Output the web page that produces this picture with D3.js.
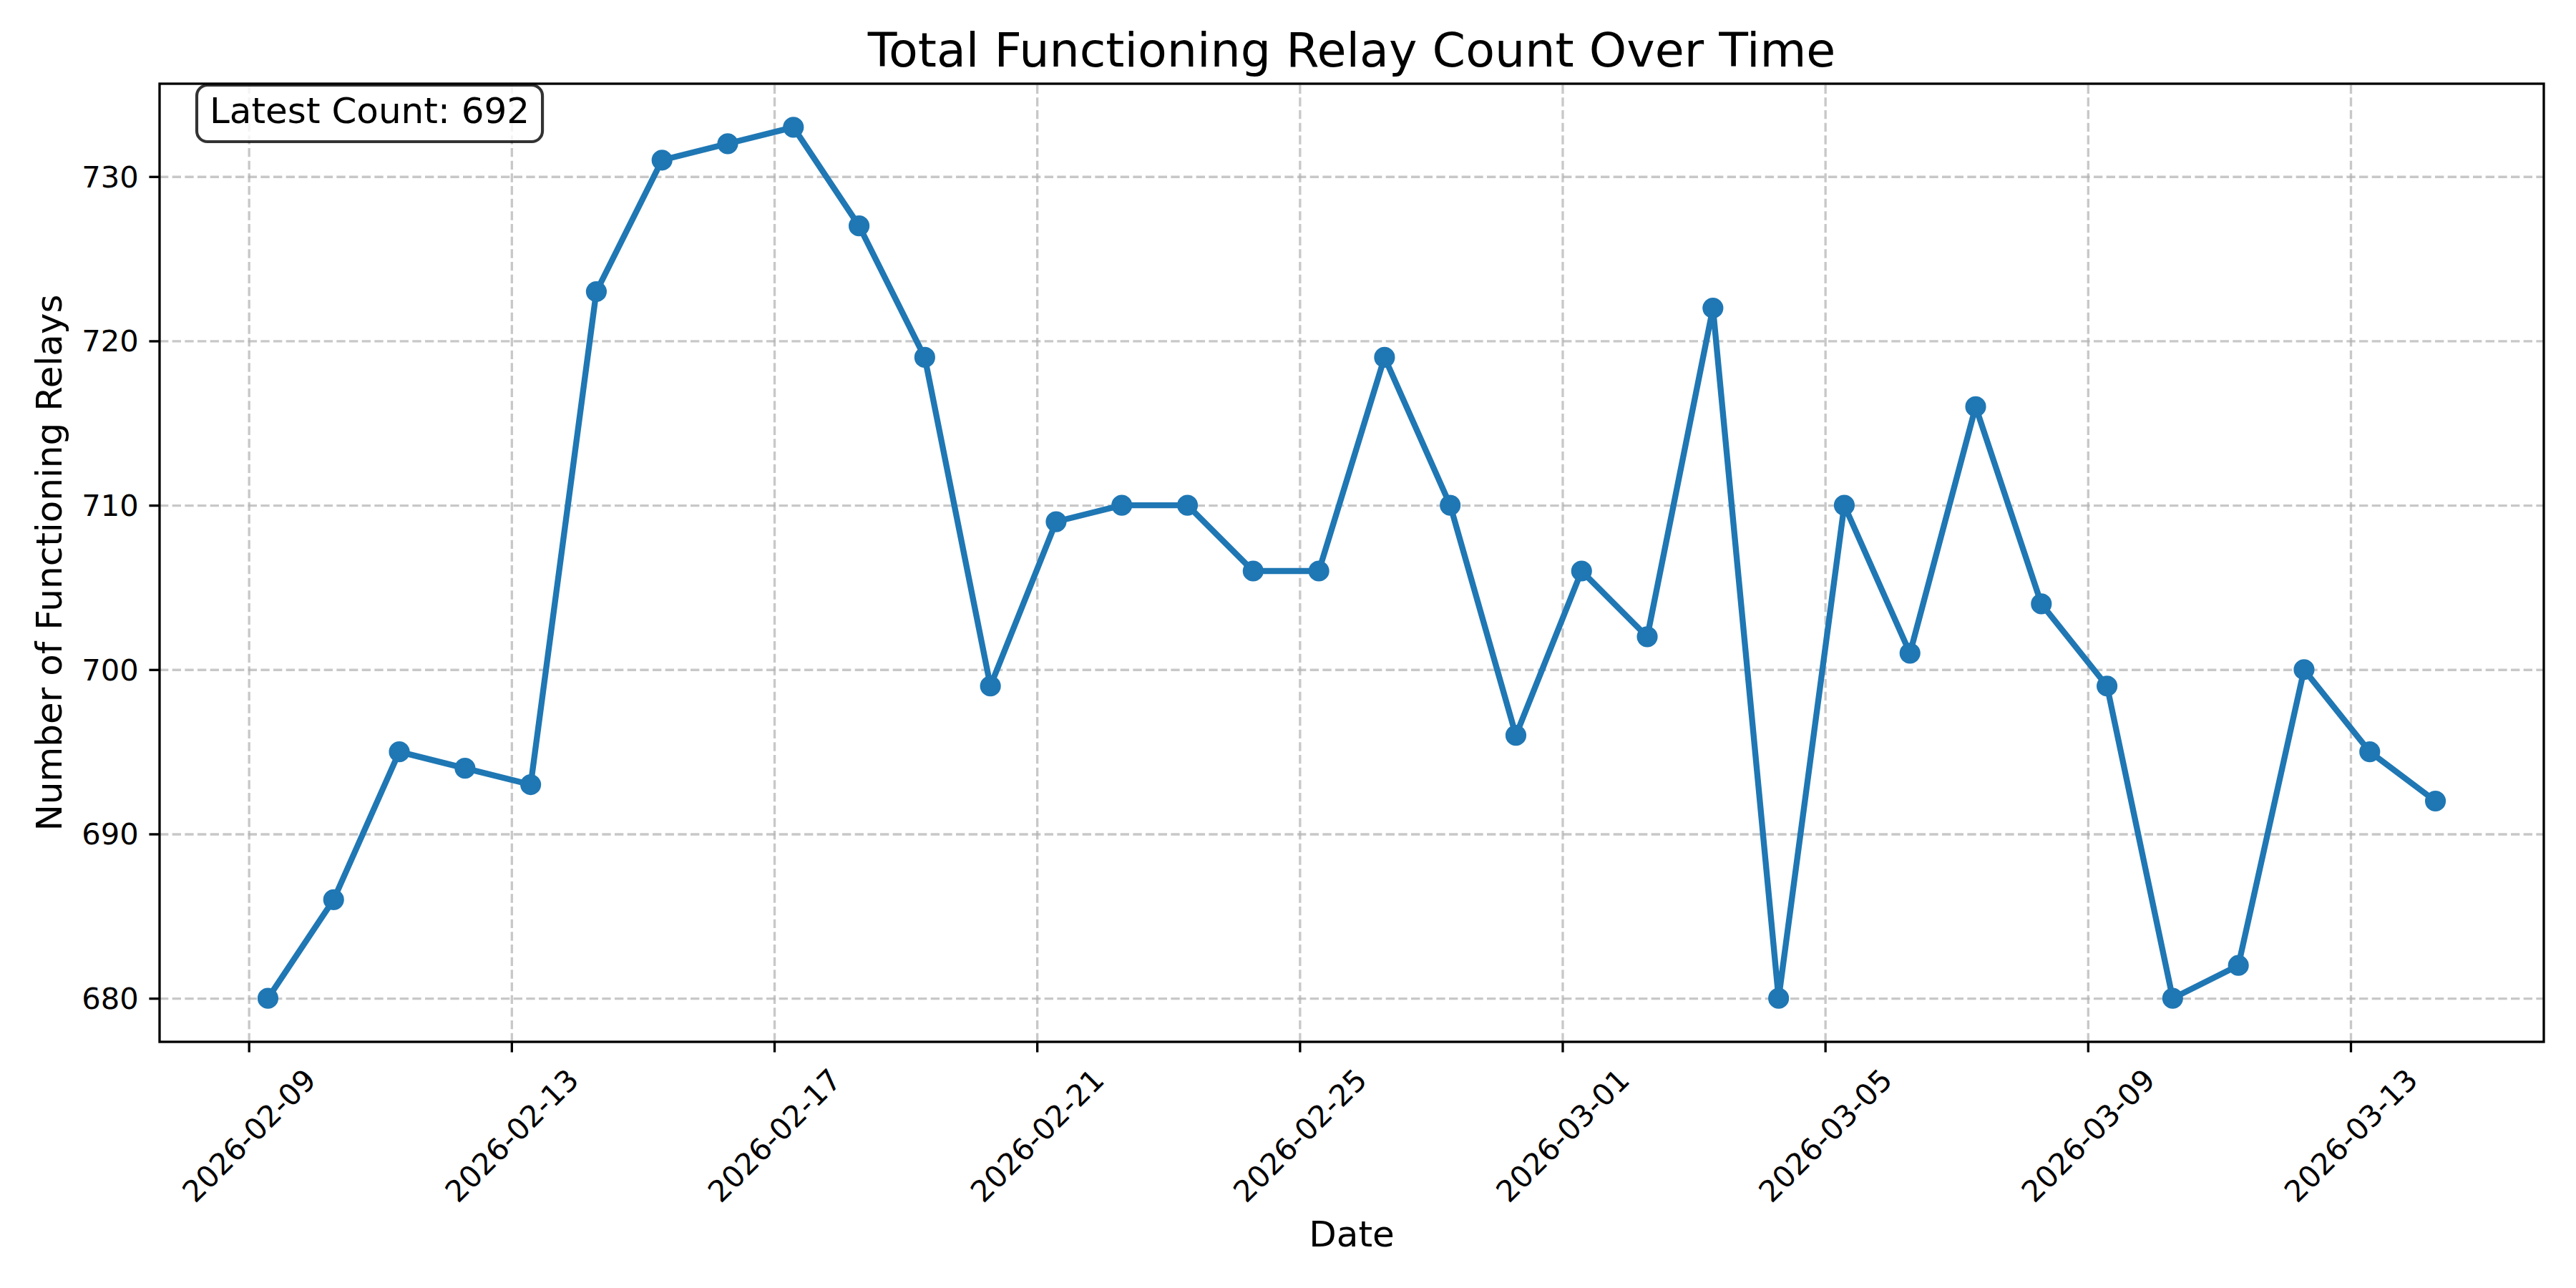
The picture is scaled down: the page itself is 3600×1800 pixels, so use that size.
<!DOCTYPE html>
<meta charset="utf-8">
<style>
  body { margin: 0; background: #fff; }
  text { font-family: "DejaVu Sans", sans-serif; fill: #000; }
</style>
<body>
<script src="https://d3js.org/d3.v7.min.js"></script>
<script>

var width = 3600,
    height = 1800,
    margin = {top: 117, right: 45, bottom: 344, left: 223},
    pt = 300 / 72;   // figure was saved at 300 dpi

// snapshot timestamps (UTC) and relay counts
var dates = [
  "2026-02-09T07:00", "2026-02-10T07:00", "2026-02-11T07:00", "2026-02-12T07:00",
  "2026-02-13T07:00", "2026-02-14T07:00", "2026-02-15T07:00", "2026-02-16T07:00",
  "2026-02-17T07:00", "2026-02-18T07:00", "2026-02-19T07:00", "2026-02-20T07:00",
  "2026-02-21T07:00", "2026-02-22T07:00", "2026-02-23T07:00", "2026-02-24T07:00",
  "2026-02-25T07:00", "2026-02-26T07:00", "2026-02-27T07:00", "2026-02-28T07:00",
  "2026-03-01T07:00", "2026-03-02T07:00", "2026-03-03T07:00", "2026-03-04T07:00",
  "2026-03-05T07:00", "2026-03-06T07:00", "2026-03-07T07:00", "2026-03-08T07:00",
  "2026-03-09T07:00", "2026-03-10T07:00", "2026-03-11T07:00", "2026-03-12T07:00",
  "2026-03-13T07:00", "2026-03-14T07:00"
];
var counts = [
  680, 686, 695, 694, 693, 723, 731, 732, 733, 727, 719, 699,
  709, 710, 710, 706, 706, 719, 710, 696, 706, 702, 722, 680,
  710, 701, 716, 704, 699, 680, 682, 700, 695, 692
];
var xTickLabels = ["2026-02-09", "2026-02-13", "2026-02-17", "2026-02-21", "2026-02-25",
                   "2026-03-01", "2026-03-05", "2026-03-09", "2026-03-13"];
var yTicks = [680, 690, 700, 710, 720, 730];

var parseTime = d3.utcParse("%Y-%m-%dT%H:%M"),
    parseDay = d3.utcParse("%Y-%m-%d");

var data = dates.map(function(d, i) { return {date: parseTime(d), value: counts[i]}; });

var w = width - margin.left - margin.right,
    h = height - margin.top - margin.bottom;

// matplotlib style 5% padding on both axes
var xExt = d3.extent(data, function(d) { return +d.date; }),
    xPad = (xExt[1] - xExt[0]) * 0.05,
    yExt = d3.extent(data, function(d) { return d.value; }),
    yPad = (yExt[1] - yExt[0]) * 0.05;

var x = d3.scaleUtc()
    .domain([new Date(xExt[0] - xPad), new Date(xExt[1] + xPad)])
    .range([0, w]);
var y = d3.scaleLinear()
    .domain([yExt[0] - yPad, yExt[1] + yPad])
    .range([h, 0]);

var xTicks = xTickLabels.map(parseDay);

var svg = d3.select("body").append("svg")
    .attr("width", width)
    .attr("height", height);

svg.append("rect").attr("width", width).attr("height", height).attr("fill", "#fff");

var g = svg.append("g")
    .attr("transform", "translate(" + margin.left + "," + margin.top + ")");

// grid
var gridStyle = function(sel) {
  sel.select(".domain").remove();
  sel.selectAll("line")
      .attr("stroke", "#b0b0b0")
      .attr("stroke-opacity", 0.7)
      .attr("stroke-width", 0.8 * pt)
      .attr("stroke-dasharray", (3.7 * 0.8 * pt) + "," + (1.6 * 0.8 * pt));
};
g.append("g")
    .attr("transform", "translate(0," + h + ")")
    .call(d3.axisBottom(x).tickValues(xTicks).tickSize(-h).tickFormat(""))
    .call(gridStyle);
g.append("g")
    .call(d3.axisLeft(y).tickValues(yTicks).tickSize(-w).tickFormat(""))
    .call(gridStyle);

// line + markers
var line = d3.line()
    .x(function(d) { return x(d.date); })
    .y(function(d) { return y(d.value); });

g.append("path")
    .datum(data)
    .attr("d", line)
    .attr("fill", "none")
    .attr("stroke", "#1f77b4")
    .attr("stroke-width", 2 * pt)
    .attr("stroke-linejoin", "round")
    .attr("stroke-linecap", "square");

g.selectAll(".dot")
    .data(data)
  .enter().append("circle")
    .attr("class", "dot")
    .attr("cx", function(d) { return x(d.date); })
    .attr("cy", function(d) { return y(d.value); })
    .attr("r", 3 * pt)
    .attr("fill", "#1f77b4")
    .attr("stroke", "#1f77b4")
    .attr("stroke-width", 1 * pt);

// spines
g.append("rect")
    .attr("width", w)
    .attr("height", h)
    .attr("fill", "none")
    .attr("stroke", "#000")
    .attr("stroke-width", 0.8 * pt);

// axes
var tickLen = 3.5 * pt, tickPad = 3.5 * pt;

var xAxis = g.append("g")
    .attr("transform", "translate(0," + h + ")")
    .call(d3.axisBottom(x)
      .tickValues(xTicks)
      .tickSizeInner(tickLen).tickSizeOuter(0).tickPadding(tickPad)
      .tickFormat(d3.utcFormat("%Y-%m-%d")));
xAxis.select(".domain").remove();
xAxis.selectAll("line").attr("stroke", "#000").attr("stroke-width", 0.8 * pt);
xAxis.selectAll("text")
    .attr("font-size", 10 * pt)
    .attr("font-family", "DejaVu Sans")
    .attr("fill", "#000")
    .attr("y", null)
    .attr("dy", null)
    .attr("text-anchor", "middle")
    .attr("dominant-baseline", "central")
    .attr("transform", "translate(0,131) rotate(-45)");

var yAxis = g.append("g")
    .call(d3.axisLeft(y)
      .tickValues(yTicks)
      .tickSizeInner(tickLen).tickSizeOuter(0).tickPadding(tickPad));
yAxis.select(".domain").remove();
yAxis.selectAll("line").attr("stroke", "#000").attr("stroke-width", 0.8 * pt);
yAxis.selectAll("text")
    .attr("font-size", 10 * pt)
    .attr("font-family", "DejaVu Sans")
    .attr("fill", "#000")
    .attr("dy", null)
    .attr("dominant-baseline", "central");

// labels
svg.append("text")
    .attr("x", margin.left + w / 2)
    .attr("y", 93)
    .attr("text-anchor", "middle")
    .attr("font-size", 16 * pt)
    .text("Total Functioning Relay Count Over Time");

svg.append("text")
    .attr("x", margin.left + w / 2)
    .attr("y", 1742)
    .attr("text-anchor", "middle")
    .attr("font-size", 12 * pt)
    .text("Date");

svg.append("text")
    .attr("transform", "translate(86," + (margin.top + h / 2) + ") rotate(-90)")
    .attr("text-anchor", "middle")
    .attr("font-size", 12 * pt)
    .text("Number of Functioning Relays");

// latest count box
var latest = counts[counts.length - 1];
var note = g.append("g").attr("transform", "translate(52,2)");
var noteText = note.append("text")
    .attr("x", 18)
    .attr("y", 53)
    .attr("font-size", 12 * pt)
    .text("Latest Count: " + latest);
var bb = noteText.node().getBBox();
note.insert("rect", "text")
    .attr("x", 0)
    .attr("y", 0)
    .attr("width", bb.width + 36)
    .attr("height", 79)
    .attr("rx", 15)
    .attr("fill", "#fff")
    .attr("fill-opacity", 0.8)
    .attr("stroke", "#000")
    .attr("stroke-opacity", 0.8)
    .attr("stroke-width", 1 * pt);

</script>
</body>
